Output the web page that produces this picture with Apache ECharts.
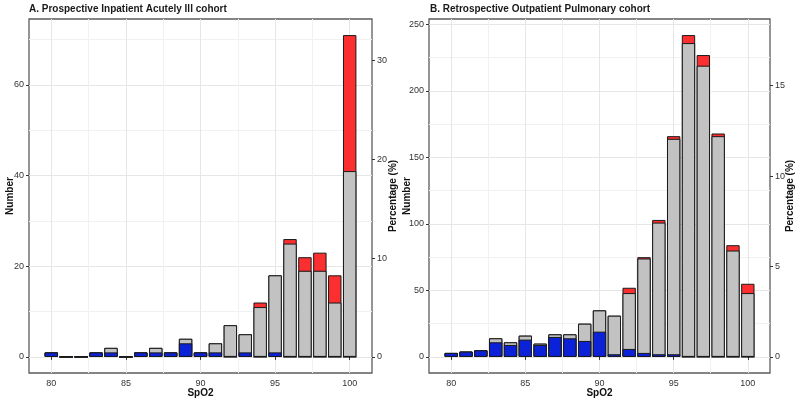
<!DOCTYPE html>
<html><head><meta charset="utf-8">
<script src="https://cdn.jsdelivr.net/npm/echarts@6/dist/echarts.min.js"></script>
<style>html,body{margin:0;padding:0;background:#fff}#c{width:800px;height:410px}</style>
</head><body><div id="c"></div>
<script>
// ---- data ----
const spo2 = [80,81,82,83,84,85,86,87,88,89,90,91,92,93,94,95,96,97,98,99,100];
// Panel A: Prospective Inpatient Acutely Ill cohort (counts)
const aBlue = [1,0,0,1,1,0,1,1,1,3,1,1,0,1,0,1,0,0,0,0,0];
const aGrey = [0,0,0,0,1,0,0,1,0,1,0,2,7,4,11,17,25,19,19,12,41];
const aRed  = [0,0,0,0,0,0,0,0,0,0,0,0,0,0,1,0,1,3,4,6,30];
// Panel B: Retrospective Outpatient Pulmonary cohort (counts)
const bBlue = [3,4,5,11,9,13,9,15,14,12,19,2,6,3,2,2,0,0,0,0,0];
const bGrey = [0,0,0,3,2,3,1,2,3,13,16,29,42,71,99,162,236,219,166,80,48];
const bRed  = [0,0,0,0,0,0,0,0,0,0,0,0,4,1,2,2,6,8,2,4,7];

const titleA = 'A. Prospective Inpatient Acutely Ill cohort';
const titleB = 'B. Retrospective Outpatient Pulmonary cohort';
const xTicks = [80,85,90,95,100];
const aCountTicks = [0,20,40,60];
const aPctTicks = [0,10,20,30];
const bCountTicks = [0,50,100,150,200,250];
const bPctTicks = [0,5,10,15];

// ---- layout / style ----
const FONT = 'Liberation Sans, Arial, sans-serif';
const xRange = [78.505, 101.495];
const aRange = [-3.55, 74.55];
const bRange = [-12.1, 254.1];
const grids = [
  {left: 29, top: 19, width: 343, height: 354},
  {left: 429, top: 19, width: 341, height: 354}
];
const COL = {blue: '#0b22d8', grey: '#c2c2c2', red: '#fb2f2f'};
const sum = a => a.reduce((s, v) => s + v, 0);
const totalA = sum(aBlue) + sum(aGrey) + sum(aRed);
const totalB = sum(bBlue) + sum(bGrey) + sum(bRed);

const labelStyle = {fontFamily: FONT, fontSize: 9, color: '#333'};
const nameStyle = {fontFamily: FONT, fontSize: 10, fontWeight: 'bold', color: '#111'};

function xAxis(gi) {
  return {
    gridIndex: gi, type: 'value', min: xRange[0], max: xRange[1],
    splitNumber: 4, minInterval: 5, maxInterval: 5,
    axisLine: {show: false},
    axisTick: {show: true, customValues: xTicks, length: 3, lineStyle: {color: '#333', width: 1}},
    axisLabel: {customValues: xTicks, margin: 6, ...labelStyle},
    splitLine: {show: true, lineStyle: {color: '#e6e6e6', width: 1}},
    minorTick: {show: false, splitNumber: 2},
    minorSplitLine: {show: true, lineStyle: {color: '#f1f1f1', width: 1}},
    name: 'SpO2', nameLocation: 'middle', nameGap: 15, nameMoveOverlap: false, nameTextStyle: nameStyle
  };
}
function countAxis(gi, range, ticks, step, gap) {
  return {
    gridIndex: gi, type: 'value', position: 'left', min: range[0], max: range[1],
    minInterval: step, maxInterval: step,
    axisLine: {show: false},
    axisTick: {show: true, customValues: ticks, length: 3, lineStyle: {color: '#333', width: 1}},
    axisLabel: {customValues: ticks, margin: 5, ...labelStyle},
    splitLine: {show: true, lineStyle: {color: '#e6e6e6', width: 1}},
    minorTick: {show: false, splitNumber: 2},
    minorSplitLine: {show: true, lineStyle: {color: '#f1f1f1', width: 1}},
    name: 'Number', nameLocation: 'middle', nameRotate: 90, nameGap: gap, nameMoveOverlap: false, nameTextStyle: nameStyle
  };
}
function pctAxis(gi, range, total, ticks, gap) {
  return {
    gridIndex: gi, type: 'value', position: 'right',
    min: range[0] * 100 / total, max: range[1] * 100 / total,
    axisLine: {show: false},
    axisTick: {show: true, customValues: ticks, length: 3, lineStyle: {color: '#333', width: 1}},
    axisLabel: {customValues: ticks, margin: 5, ...labelStyle},
    splitLine: {show: false},
    name: 'Percentage (%)', nameLocation: 'middle', nameRotate: 90, nameGap: gap, nameMoveOverlap: false, nameTextStyle: nameStyle
  };
}
// Stacked look: each layer is drawn as a cumulative bar, tallest first, so
// the lower layers paint over the upper ones (blue bottom, grey middle, red top).
function barSeries(gi, blue, grey, red) {
  const bw = grids[gi].width / (xRange[1] - xRange[0]) * 0.9;
  const cumGrey = spo2.map((x, i) => [x, blue[i] + grey[i]]);
  const cumRed = spo2.map((x, i) => [x, blue[i] + grey[i] + red[i]]);
  const lowBlue = spo2.map((x, i) => [x, blue[i]]);
  const base = {
    type: 'bar', xAxisIndex: gi, yAxisIndex: gi * 2, barWidth: bw, barGap: '-100%',
    silent: true, itemStyle: {borderColor: '#1a1a1a', borderWidth: 1}
  };
  return [
    {...base, name: 'red' + gi, data: cumRed, itemStyle: {...base.itemStyle, color: COL.red}},
    {...base, name: 'grey' + gi, data: cumGrey, itemStyle: {...base.itemStyle, color: COL.grey}},
    {...base, name: 'blue' + gi, data: lowBlue, itemStyle: {...base.itemStyle, color: COL.blue}}
  ];
}

const option = {
  animation: false,
  backgroundColor: '#fff',
  title: [
    {text: titleA, left: 29, top: 4, padding: 0, textStyle: {fontFamily: FONT, fontSize: 10, fontWeight: 'bold', color: '#1a1a1a'}},
    {text: titleB, left: 430, top: 4, padding: 0, textStyle: {fontFamily: FONT, fontSize: 10, fontWeight: 'bold', color: '#1a1a1a'}}
  ],
  grid: grids.map(g => ({...g, show: true, borderColor: '#5c5c5c', borderWidth: 1.3, backgroundColor: 'transparent'})),
  xAxis: [xAxis(0), xAxis(1)],
  yAxis: [
    countAxis(0, aRange, aCountTicks, 20, 14),
    pctAxis(0, aRange, totalA, aPctTicks, 16),
    countAxis(1, bRange, bCountTicks, 50, 17),
    pctAxis(1, bRange, totalB, bPctTicks, 15)
  ],
  series: [...barSeries(0, aBlue, aGrey, aRed), ...barSeries(1, bBlue, bGrey, bRed)]
};
const chart = echarts.init(document.getElementById('c'), null, {renderer: 'canvas'});
chart.setOption(option);
</script></body></html>
